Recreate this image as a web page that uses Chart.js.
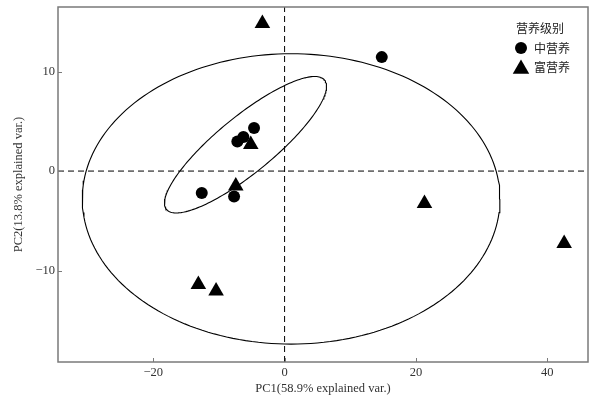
<!DOCTYPE html>
<html>
<head>
<meta charset="utf-8">
<script src="https://cdn.jsdelivr.net/npm/chart.js@4.4.1/dist/chart.umd.min.js"></script>
<style>
  html, body { margin: 0; padding: 0; background: #fff; }
  #wrap { width: 593px; height: 396px; position: relative; }
</style>
</head>
<body>
<div id="wrap"><canvas id="c"></canvas></div>
<script>
// 中营养 / 富营养 PCA scores
const midX = [14.8, -4.65, -6.27, -7.19, -12.61, -7.69];
const midY = [11.46, 4.32, 3.42, 2.97, -2.21, -2.55];
const richX = [-3.38, -5.15, -7.43, 21.3, 42.57, -13.13, -10.43];
const richY = [14.83, 2.67, -1.51, -3.26, -7.28, -11.4, -12.06];

const groupNames = ["中营养", "富营养"];
const legendTitle = "营养级别";

// ellipses: center, semi-axes, angle (deg)
const bigCenter = [1.0, -2.8];
const bigAxes = [31.8, 14.6];
const bigAngle = 0;
const smallCenter = [-5.95, 2.65];
const smallAxes = [13.75, 3.2];
const smallAngle = 27.0;

const xRange = [-34.5, 46.2];
const yRange = [-19.2, 16.5];
const xTicks = [-20, 0, 20, 40];
const yTicks = [-10, 0, 10];

const serif = "'Liberation Serif', 'Times New Roman', serif";
const cjk = "'Noto Sans CJK SC', sans-serif";

function ellipse(c, ax, deg) {
  const th = deg * Math.PI / 180;
  const pts = [];
  for (let i = 0; i <= 200; i++) {
    const t = i / 200 * 2 * Math.PI;
    const u = ax[0] * Math.cos(t), v = ax[1] * Math.sin(t);
    pts.push({
      x: c[0] + u * Math.cos(th) - v * Math.sin(th),
      y: c[1] + u * Math.sin(th) + v * Math.cos(th)
    });
  }
  return pts;
}

const zip = (xs, ys) => xs.map((x, i) => ({ x, y: ys[i] }));

// box + inward ticks + legend
const extras = {
  id: "extras",
  afterDraw(chart) {
    const { ctx, chartArea: a, scales } = chart;
    ctx.save();
    ctx.strokeStyle = "#7a7a7a";
    ctx.lineWidth = 1.5;
    ctx.strokeRect(a.left, a.top, a.right - a.left, a.bottom - a.top);
    ctx.lineWidth = 1;
    ctx.beginPath();
    xTicks.forEach(v => {
      const px = Math.round(scales.x.getPixelForValue(v)) + 0.5;
      ctx.moveTo(px, a.bottom);
      ctx.lineTo(px, a.bottom - 4);
    });
    yTicks.forEach(v => {
      const py = Math.round(scales.y.getPixelForValue(v)) + 0.5;
      ctx.moveTo(a.left, py);
      ctx.lineTo(a.left + 4, py);
    });
    ctx.stroke();

    // legend
    ctx.fillStyle = "#222";
    ctx.font = "12px " + cjk;
    ctx.textBaseline = "middle";
    ctx.textAlign = "left";
    ctx.fillText(legendTitle, 516, 28);
    ctx.fillStyle = "#000";
    ctx.beginPath();
    ctx.arc(521, 48, 6, 0, Math.PI * 2);
    ctx.fill();
    const r = 9.5, cy = 69;
    ctx.beginPath();
    for (let k = 0; k < 3; k++) {
      const ang = k * 2 * Math.PI / 3;
      const px = 521 + Math.sin(ang) * r, py = cy - Math.cos(ang) * r;
      k ? ctx.lineTo(px, py) : ctx.moveTo(px, py);
    }
    ctx.closePath();
    ctx.fill();
    ctx.fillStyle = "#222";
    ctx.fillText(groupNames[0], 534, 48);
    ctx.fillText(groupNames[1], 534, 67);
    ctx.restore();
  }
};

const minus = v => String(v).replace("-", "\u2212");

new Chart(document.getElementById("c"), {
  type: "scatter",
  data: {
    datasets: [
      {
        label: groupNames[0],
        data: zip(midX, midY),
        pointStyle: "circle",
        pointRadius: 6,
        backgroundColor: "#000",
        borderColor: "#000",
        borderWidth: 0
      },
      {
        label: groupNames[1],
        data: zip(richX, richY),
        pointStyle: "triangle",
        pointRadius: 9,
        backgroundColor: "#000",
        borderColor: "#000",
        borderWidth: 0
      },
      {
        data: ellipse(smallCenter, smallAxes, smallAngle),
        showLine: true, pointRadius: 0, borderColor: "#000", borderWidth: 1.1, tension: 0
      },
      {
        data: ellipse(bigCenter, bigAxes, bigAngle),
        showLine: true, pointRadius: 0, borderColor: "#000", borderWidth: 1.1, tension: 0
      },
      {
        data: [{ x: xRange[0], y: 0 }, { x: xRange[1], y: 0 }],
        showLine: true, pointRadius: 0, borderColor: "#000", borderWidth: 1, borderDash: [6, 4]
      },
      {
        data: [{ x: 0, y: yRange[0] }, { x: 0, y: yRange[1] }],
        showLine: true, pointRadius: 0, borderColor: "#000", borderWidth: 1, borderDash: [6, 4]
      }
    ]
  },
  options: {
    responsive: true,
    maintainAspectRatio: false,
    animation: false,
    layout: { autoPadding: false, padding: { top: 7, right: 5, left: 0, bottom: 0 } },
    plugins: {
      legend: { display: false },
      tooltip: { enabled: false }
    },
    scales: {
      x: {
        type: "linear",
        min: xRange[0], max: xRange[1],
        afterBuildTicks: s => { s.ticks = xTicks.map(v => ({ value: v })); },
        afterFit: s => { s.height = 34; s.paddingLeft = 0; s.paddingRight = 0; },
        grid: { display: false, drawTicks: false },
        border: { display: false },
        ticks: {
          padding: 3, color: "#333",
          font: { family: serif, size: 12.5 },
          callback: minus
        },
        title: {
          display: true, text: "PC1(58.9% explained var.)",
          color: "#333", font: { family: serif, size: 12.5 },
          padding: { top: 0, bottom: 0 }
        }
      },
      y: {
        type: "linear",
        min: yRange[0], max: yRange[1],
        afterBuildTicks: s => { s.ticks = yTicks.map(v => ({ value: v })); },
        afterFit: s => { s.width = 58; s.paddingTop = 0; s.paddingBottom = 0; },
        grid: { display: false, drawTicks: false },
        border: { display: false },
        ticks: {
          padding: 3, color: "#333",
          font: { family: serif, size: 12.5 },
          callback: minus
        },
        title: {
          display: true, text: "PC2(13.8% explained var.)",
          color: "#333", font: { family: serif, size: 12.5 },
          padding: { top: 11, bottom: 0 }
        }
      }
    }
  },
  plugins: [extras]
});
</script>
</body>
</html>
